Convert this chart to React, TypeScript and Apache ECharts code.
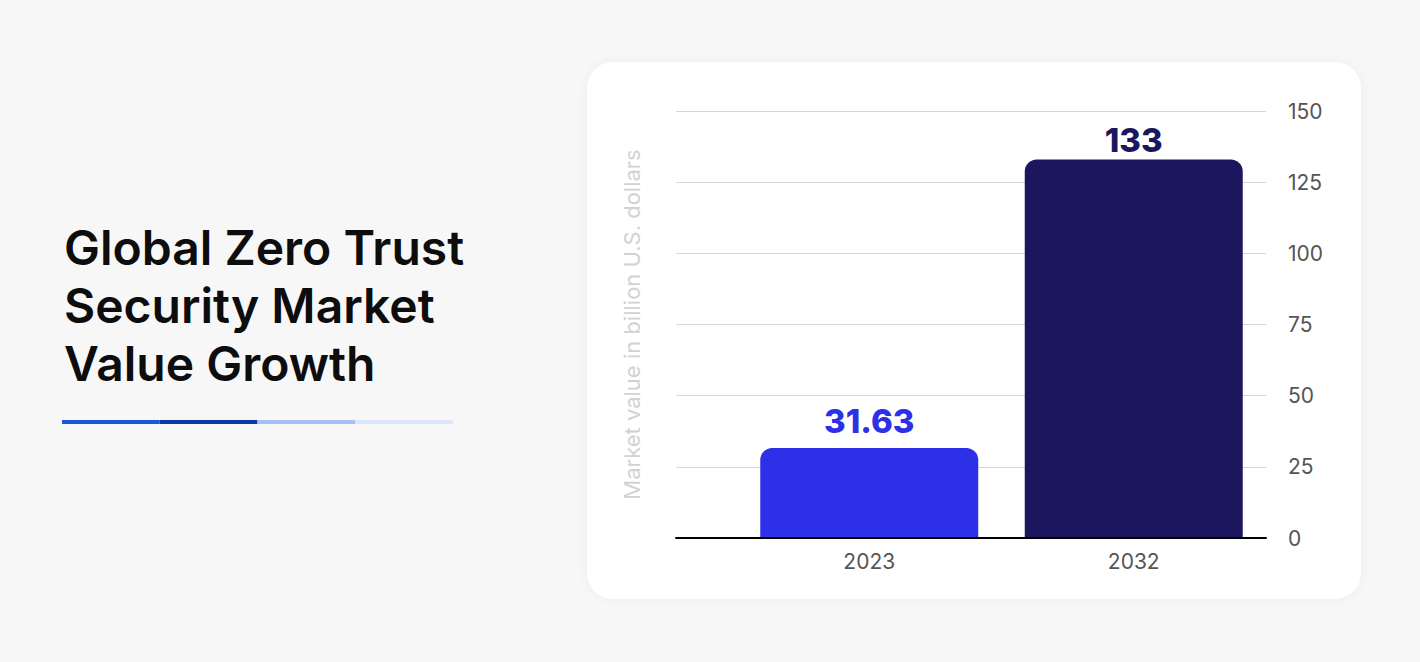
import React, { useEffect, useRef } from "react";
import * as echarts from "echarts";

const categories = ["2023", "2032"];
const values = [31.63, 133];
const barColors = ["#2e30e8", "#1c165e"];
const labelDistances = [10, 3];
const titleLines = ["Global Zero Trust", "Security Market", "Value Growth"];
const yAxisName = "Market value in billion U.S. dollars";
const underlineColors = ["#1a56db", "#0a3aa8", "#a7c0f4", "#dce6fb"];

export default function App() {
  const ref = useRef<HTMLDivElement>(null);

  useEffect(() => {
    document.body.style.margin = "0";
    document.body.style.background = "#f7f7f7";
    const chart = echarts.init(ref.current!, null, { renderer: "svg" });
    const font = "Inter, 'Noto Sans', sans-serif";
    const plotTop = 111;
    const plotBottom = 124;
    const plotRight = 154;

    const underline = underlineColors.map((c, i) => ({
      type: "rect",
      shape: { x: 62 + i * 97.75, y: 420, width: 97.75, height: 4 },
      style: { fill: c },
    }));

    chart.setOption({
      animation: false,
      backgroundColor: "transparent",
      title: {
        text: titleLines.join("\n"),
        left: 59,
        top: 213,
        textStyle: {
          fontFamily: font,
          fontSize: 48,
          fontWeight: 600,
          lineHeight: 58,
          color: "#0d0d0d",
        },
      },
      graphic: underline,
      grid: [
        { left: 676, right: plotRight, top: plotTop, bottom: plotBottom },
        { left: 737, right: plotRight, top: plotTop, bottom: plotBottom },
      ],
      xAxis: [
        {
          gridIndex: 0,
          type: "value",
          min: 0,
          max: 1,
          z: 5,
          axisLine: { show: true, onZero: false, lineStyle: { color: "#000", width: 2 } },
          axisTick: { show: false },
          axisLabel: { show: false },
          splitLine: { show: false },
        },
        {
          gridIndex: 1,
          type: "category",
          data: categories,
          axisLine: { show: false },
          axisTick: { show: false },
          axisLabel: {
            fontFamily: font,
            fontSize: 21,
            color: "#555",
            margin: 13,
          },
        },
      ],
      yAxis: [
        {
          gridIndex: 0,
          type: "value",
          position: "right",
          min: 0,
          max: 150,
          interval: 25,
          axisLine: { show: false },
          axisTick: { show: false },
          axisLabel: { fontFamily: font, fontSize: 21, color: "#555", margin: 22 },
          splitLine: { lineStyle: { color: "#d6d6d6", width: 1 } },
        },
        {
          gridIndex: 1,
          type: "value",
          position: "left",
          min: 0,
          max: 150,
          interval: 25,
          name: yAxisName,
          nameLocation: "middle",
          nameRotate: 90,
          nameGap: 94,
          nameTextStyle: { fontFamily: font, fontSize: 22, color: "#d2d2d2" },
          axisLine: { show: false },
          axisTick: { show: false },
          axisLabel: { show: false },
          splitLine: { show: false },
        },
      ],
      series: [
        {
          type: "bar",
          xAxisIndex: 1,
          yAxisIndex: 1,
          barWidth: 218,
          data: values.map((v, i) => ({
            value: v,
            itemStyle: { color: barColors[i], borderRadius: [12, 12, 0, 0] },
            label: { color: barColors[i], distance: labelDistances[i] },
          })),
          label: {
            show: true,
            position: "top",
            fontFamily: font,
            fontSize: 33,
            fontWeight: 800,
          },
        },
      ],
    });
    return () => chart.dispose();
  }, []);

  return (
    <div style={{ position: "fixed", left: 0, top: 0, width: 1420, height: 662, background: "#f7f7f7" }}>
      <div
        style={{
          position: "absolute",
          left: 587,
          top: 62,
          width: 774,
          height: 537,
          borderRadius: 26,
          background: "#ffffff",
          boxShadow: "0 0 14px rgba(0,0,0,0.04)",
        }}
      />
      <div ref={ref} style={{ position: "absolute", left: 0, top: 0, width: 1420, height: 662 }} />
    </div>
  );
}
